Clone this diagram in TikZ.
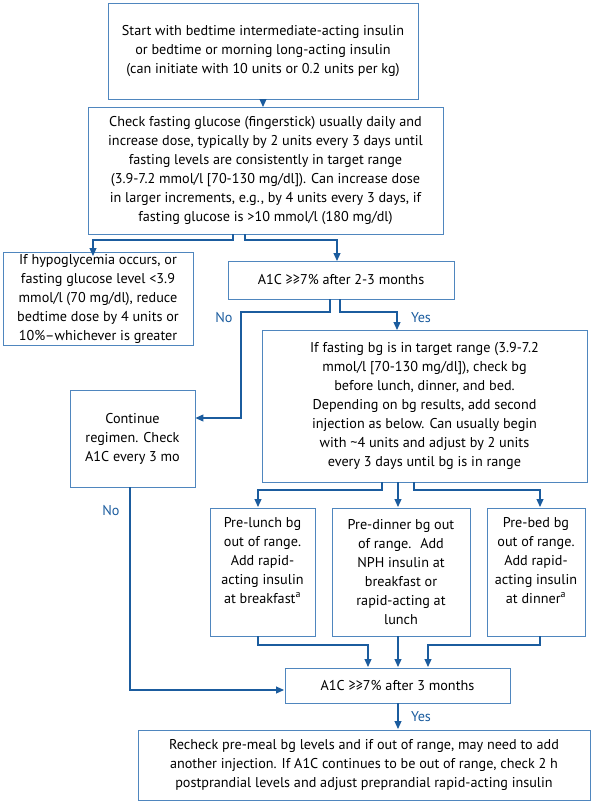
\documentclass[tikz,border=0pt]{standalone}
\usepackage{fontspec}
\setmainfont{PT Sans}
\usetikzlibrary{arrows.meta}
\definecolor{bx}{HTML}{4F86BE}
\definecolor{ar}{HTML}{1B5C9E}
\begin{document}
\begin{tikzpicture}[x=1pt,y=-1pt,
 box/.style={draw=bx,line width=0.9pt,align=center,inner sep=2pt,font=\fontsize{14.2}{19}\selectfont},
 ln/.style={draw=ar,line width=1.1pt},
 arr/.style={ln,-{Triangle[width=7pt,length=8pt]}},
 lab/.style={text=ar,font=\fontsize{14.2}{15}\selectfont}]
\useasboundingbox (0,0) rectangle (600,806);
\node[box,minimum width=310,minimum height=96] (s) at (263,51) {Start with bedtime intermediate-acting insulin\\or bedtime or morning long-acting insulin\\(can initiate with 10 units or 0.2 units per kg)};
\node[box,minimum width=355,minimum height=127] (c) at (265.5,170.5) {Check fasting glucose (fingerstick) usually daily and\\increase dose, typically by 2 units every 3 days until\\fasting levels are consistently in target range\\(3.9-7.2 mmol/l [70-130 mg/dl]). Can increase dose\\in larger increments, e.g., by 4 units every 3 days, if\\fasting glucose is >10 mmol/l (180 mg/dl)};
\node[box,minimum width=190,minimum height=86] (h) at (98,299) {If hypoglycemia occurs, or\\fasting glucose level <3.9\\mmol/l (70 mg/dl), reduce\\bedtime dose by 4 units or\\10\%--whichever is greater};
\node[box,minimum width=226,minimum height=38] (a1) at (341,280) {A1C ≥≥7\% after 2-3 months};
\node[box,minimum width=325,minimum height=152] (f) at (424.5,406) {If fasting bg is in target range (3.9-7.2\\mmol/l [70-130 mg/dl]), check bg\\before lunch, dinner, and bed.\\Depending on bg results, add second\\injection as below. Can usually begin\\with \textasciitilde4 units and adjust by 2 units\\every 3 days until bg is in range};
\node[box,minimum width=125,minimum height=97] (k) at (132.5,438.5) {Continue\\regimen. Check\\A1C every 3 mo};
\node[box,minimum width=105,minimum height=128,anchor=north] (p1) at (262.5,508) {Pre-lunch bg\\out of range.\\Add rapid-\\acting insulin\\at breakfast\textsuperscript{a}\\\strut};
\node[box,minimum width=138,minimum height=128,anchor=north] (p2) at (401,508) {Pre-dinner bg out\\of range.~ Add\\NPH insulin at\\breakfast or\\rapid-acting at\\lunch};
\node[box,minimum width=98,minimum height=128,anchor=north] (p3) at (536,508) {Pre-bed bg\\out of range.\\Add rapid-\\acting insulin\\at dinner\textsuperscript{a}\\\strut};
\node[box,minimum width=225,minimum height=35] (a3) at (397.5,685.5) {A1C ≥≥7\% after 3 months};
\node[box,minimum width=452,minimum height=70] (r) at (364,765) {Recheck pre-meal bg levels and if out of range, may need to add\\another injection. If A1C continues to be out of range, check 2 h\\postprandial levels and adjust preprandial rapid-acting insulin};
\draw[arr] (s.south) -- (263,107);
\draw[arr] (233,234) -- (233,240) -- (93,240) -- (93,256);
\draw[arr] (245,234) -- (245,240) -- (337,240) -- (337,261);
\draw[arr] (340,299) -- (340,312) -- (397,312) -- (397,330);
\draw[arr] (330,299) -- (330,312) -- (241,312) -- (241,418) -- (k.east |- 241,418);
\node[lab] (ly) at (421,318) {Yes};
\node[lab] (ln) at (224,318) {No};
\node[lab] (ln2) at (111,511) {No};
\draw[arr] (382,482) -- (382,490) -- (258,490) -- (258,507);
\draw[arr] (398,482) -- (398,507);
\draw[arr] (414,482) -- (414,490) -- (540,490) -- (540,507);
\draw[arr] (258,636) -- (258,645) -- (368,645) -- (368,667);
\draw[arr] (398,636) -- (398,667);
\draw[arr] (540,636) -- (540,645) -- (428,645) -- (428,667);
\draw[arr] (130,487) -- (130,690) -- (284,690);
\draw[arr] (398,703) -- (398,729);
\node[lab] (ly2) at (421,717) {Yes};
\end{tikzpicture}
\end{document}
